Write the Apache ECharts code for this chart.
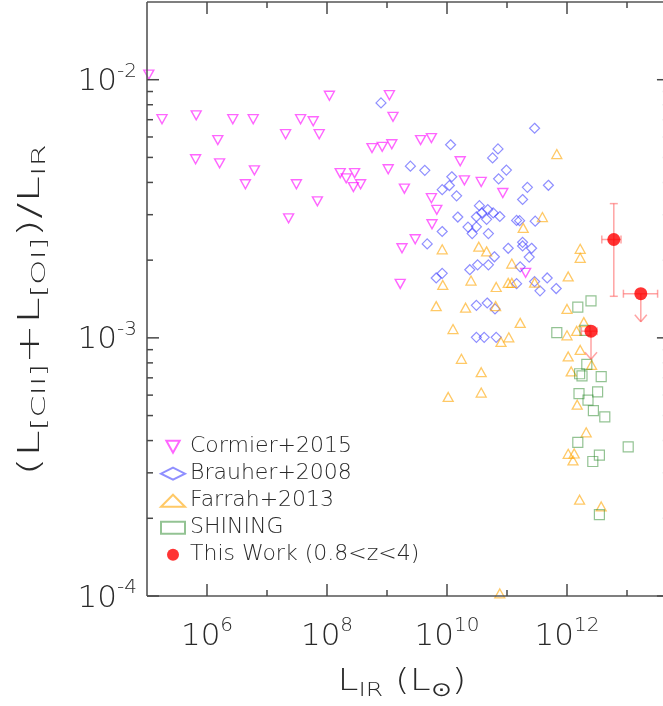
<!DOCTYPE html>
<html>
<head>
<meta charset="utf-8">
<script src="https://cdn.jsdelivr.net/npm/echarts@6/dist/echarts.min.js"></script>
<style>
  html, body { margin: 0; padding: 0; background: #ffffff; }
  #chart { width: 663px; height: 706px; }
</style>
</head>
<body>
<div id="chart"></div>
<script>
// All luminosities and ratios are stored as log10 values (dex).
// x: log10 L_IR [L_sun]; y: log10 (L[CII] + L[OI]) / L_IR

// Cormier+2015 (dwarf galaxies)
const cormierLogLIR = [5.03, 5.25, 5.82, 6.43, 6.77, 7.56, 7.77, 8.04, 7.31, 7.87, 6.18, 5.81, 6.21, 6.79, 6.64, 7.49, 7.84, 7.36, 9.04, 9.10, 8.75, 8.92, 9.08, 8.22, 8.32, 8.46, 8.44, 8.56, 9.02, 9.29, 9.56, 9.74, 10.22, 10.29, 10.57, 9.74, 9.83, 9.75, 9.47, 9.25, 9.22, 10.93, 11.31];
const cormierLogRatio = [-1.98, -2.153, -2.138, -2.153, -2.153, -2.153, -2.161, -2.062, -2.211, -2.211, -2.234, -2.308, -2.324, -2.351, -2.405, -2.405, -2.471, -2.537, -2.060, -2.144, -2.265, -2.260, -2.250, -2.362, -2.382, -2.362, -2.416, -2.405, -2.347, -2.422, -2.234, -2.226, -2.316, -2.390, -2.396, -2.459, -2.504, -2.560, -2.618, -2.653, -2.791, -2.439, -2.748];

// Brauher+2008
const brauherLogLIR = [8.90, 11.46, 10.06, 9.39, 9.63, 10.85, 10.76, 10.99, 10.86, 10.08, 9.92, 10.04, 10.16, 11.34, 11.69, 11.26, 10.54, 10.18, 10.49, 10.58, 10.68, 10.77, 10.88, 10.66, 10.35, 10.49, 10.42, 10.69, 11.16, 11.21, 11.47, 9.92, 9.67, 11.26, 11.26, 11.41, 11.02, 11.37, 10.79, 10.69, 10.51, 10.38, 11.22, 9.92, 9.82, 11.16, 11.46, 11.67, 11.55, 11.82, 10.49, 10.67, 10.80, 10.49, 10.62, 10.82];
const brauherLogRatio = [-2.090, -2.188, -2.252, -2.335, -2.351, -2.268, -2.303, -2.350, -2.384, -2.376, -2.426, -2.410, -2.450, -2.417, -2.409, -2.464, -2.488, -2.532, -2.531, -2.516, -2.503, -2.516, -2.530, -2.541, -2.571, -2.570, -2.596, -2.596, -2.545, -2.546, -2.548, -2.588, -2.636, -2.630, -2.644, -2.653, -2.653, -2.687, -2.686, -2.717, -2.717, -2.736, -2.725, -2.750, -2.768, -2.790, -2.782, -2.768, -2.818, -2.809, -2.874, -2.865, -2.888, -2.998, -2.998, -2.998];

// Farrah+2013
const farrahLogLIR = [11.83, 11.59, 11.27, 9.92, 10.53, 10.66, 12.22, 12.22, 11.08, 10.40, 9.93, 10.82, 11.02, 11.08, 11.46, 12.02, 9.82, 10.31, 10.81, 12.00, 11.22, 10.10, 12.28, 12.16, 12.00, 11.03, 10.90, 12.22, 12.02, 10.24, 12.41, 10.57, 12.07, 10.02, 10.57, 12.17, 12.32, 12.02, 12.12, 12.10, 12.21, 12.57, 10.88];
const farrahLogRatio = [-2.288, -2.532, -2.574, -2.657, -2.647, -2.665, -2.655, -2.690, -2.712, -2.778, -2.795, -2.803, -2.787, -2.787, -2.786, -2.762, -2.877, -2.883, -2.877, -2.888, -2.942, -2.966, -2.939, -2.973, -2.990, -2.998, -3.016, -3.047, -3.072, -3.081, -3.105, -3.133, -3.130, -3.229, -3.212, -3.259, -3.366, -3.449, -3.448, -3.475, -3.627, -3.653, -3.99];

// SHINING
const shiningLogLIR = [12.18, 12.40, 11.83, 12.30, 12.33, 12.21, 12.25, 12.57, 12.20, 12.35, 12.51, 12.44, 12.63, 12.18, 12.54, 12.43, 13.02, 12.54];
const shiningLogRatio = [-2.881, -2.857, -2.980, -2.971, -3.103, -3.139, -3.147, -3.150, -3.216, -3.241, -3.209, -3.282, -3.306, -3.405, -3.454, -3.479, -3.422, -3.685];

// This Work (0.8<z<4): values, error ranges and upper-limit flags
const thisWorkLogLIR = [12.78, 13.23, 12.40];
const thisWorkLogRatio = [-2.619, -2.829, -2.974];
const thisWorkLogLIRLow = [12.58, 12.94, 12.24];
const thisWorkLogLIRHigh = [12.90, 13.51, 12.50];
const thisWorkLogRatioLow = [-2.839, null, null];
const thisWorkLogRatioHigh = [-2.480, null, null];
const thisWorkUpperLimit = [false, true, true];

// Axis tick exponents
const xMajorExp = [6, 8, 10, 12];
const xMinorExp = [7, 9, 11, 13];
const yMajorExp = [-4, -3, -2];
const yMinorMantissa = [2, 3, 4, 5, 6, 7, 8, 9];

// visible window; the right-hand frame edge (5e13) lies just past the canvas
const X_MIN = 1e5, X_MAX = Math.pow(10, 13.6), X_FRAME_EDGE = 5e13;
const Y_MIN = 1e-4, Y_MAX = 2e-2;

const FONT = 'DejaVu Sans';
const TEXT_WEIGHT = 200;
const TEXT_COLOR = '#2a2a2a';
const TICK_COLOR = '#484848';
const FRAME_COLOR = '#555555';
const MAJOR_LEN = 12, MINOR_LEN = 6;

function toPairs(lx, ly) {
  return lx.map((v, i) => [Math.pow(10, v), Math.pow(10, ly[i])]);
}

function renderFrame(params, api) {
  const p0 = api.coord([X_MIN, Y_MIN]);
  const p1 = api.coord([X_MAX, Y_MAX]);
  const left = p0[0], bottom = p0[1], top = p1[1];
  const pxPerDex = (p1[0] - p0[0]) / (Math.log10(X_MAX) - Math.log10(X_MIN));
  const right = p0[0] + pxPerDex * (Math.log10(X_FRAME_EDGE) - Math.log10(X_MIN));
  const kids = [];
  const line = (ax, ay, bx, by, color, w) => kids.push({
    type: 'line', shape: { x1: ax, y1: ay, x2: bx, y2: by },
    style: { stroke: color, lineWidth: w }
  });
  const tick = (ax, ay, bx, by) => line(ax, ay, bx, by, TICK_COLOR, 1.5);
  // frame
  line(left, top, left, bottom, FRAME_COLOR, 1.6);
  line(left, bottom, right, bottom, FRAME_COLOR, 1.6);
  line(left, top, right, top, FRAME_COLOR, 1.6);
  line(right, top, right, bottom, FRAME_COLOR, 1.6);

  const supRich = {
    b: { fontSize: 31, lineHeight: 36, fontFamily: FONT, fontWeight: TEXT_WEIGHT, fill: TEXT_COLOR, verticalAlign: 'bottom' },
    s: { fontSize: 20, lineHeight: 22, fontFamily: FONT, fontWeight: TEXT_WEIGHT, fill: TEXT_COLOR, verticalAlign: 'top' }
  };
  xMajorExp.forEach(e => {
    const x = api.coord([Math.pow(10, e), Y_MIN])[0];
    tick(x, bottom, x, bottom - MAJOR_LEN);
    tick(x, top, x, top + MAJOR_LEN);
    kids.push({
      type: 'text', x: x, y: bottom + 38,
      style: { text: '{b|10}{s|' + e + '}', rich: supRich, align: 'center', verticalAlign: 'middle' }
    });
  });
  xMinorExp.forEach(e => {
    const x = api.coord([Math.pow(10, e), Y_MIN])[0];
    tick(x, bottom, x, bottom - MINOR_LEN);
    tick(x, top, x, top + MINOR_LEN);
  });
  yMajorExp.forEach(e => {
    const y = api.coord([X_MIN, Math.pow(10, e)])[1];
    tick(left, y, left + MAJOR_LEN, y);
    tick(right, y, right - MAJOR_LEN, y);
    kids.push({
      type: 'text', x: left - 10, y: y,
      style: { text: '{b|10}{s|-' + (-e) + '}', rich: supRich, align: 'right', verticalAlign: 'middle' }
    });
  });
  yMajorExp.slice(0, -1).forEach(e => {
    yMinorMantissa.forEach(m => {
      const y = api.coord([X_MIN, m * Math.pow(10, e)])[1];
      tick(left, y, left + MINOR_LEN, y);
      tick(right, y, right - MINOR_LEN, y);
    });
  });
  const subRich = {
    b: { fontSize: 30, lineHeight: 34, fontFamily: FONT, fontWeight: TEXT_WEIGHT, fill: TEXT_COLOR, verticalAlign: 'top' },
    u: { fontSize: 20, lineHeight: 20, fontFamily: FONT, fontWeight: TEXT_WEIGHT, fill: TEXT_COLOR, verticalAlign: 'bottom' }
  };
  // axis titles
  kids.push({
    type: 'text', x: 402, y: bottom + 88, scaleX: 1.25,
    style: { text: '{b|L}{u|IR}{b| (L}{u|\u2299}{b|)}', rich: subRich, align: 'center', verticalAlign: 'middle' }
  });
  kids.push({
    type: 'text', x: 33, y: 310, rotation: Math.PI / 2, scaleX: 1.6,
    style: { text: '{b|(L}{u|[CII]}{b|+L}{u|[OI]}{b|)/L}{u|IR}', rich: subRich, align: 'center', verticalAlign: 'middle' }
  });
  return { type: 'group', children: kids };
}

function renderErrorBars(params, api) {
  const i = params.dataIndex;
  const c = api.coord([api.value(0), api.value(1)]);
  const kids = [];
  const stroke = 'rgba(255, 90, 90, 0.55)';
  const seg = (ax, ay, bx, by) => kids.push({
    type: 'line', shape: { x1: ax, y1: ay, x2: bx, y2: by },
    style: { stroke: stroke, lineWidth: 1.5 }
  });
  const CAP = 4;
  const xl = api.coord([Math.pow(10, thisWorkLogLIRLow[i]), api.value(1)])[0];
  const xh = api.coord([Math.pow(10, thisWorkLogLIRHigh[i]), api.value(1)])[0];
  seg(xl, c[1], xh, c[1]);
  seg(xl, c[1] - CAP, xl, c[1] + CAP);
  seg(xh, c[1] - CAP, xh, c[1] + CAP);
  if (thisWorkLogRatioLow[i] !== null) {
    const yl = api.coord([api.value(0), Math.pow(10, thisWorkLogRatioLow[i])])[1];
    const yh = api.coord([api.value(0), Math.pow(10, thisWorkLogRatioHigh[i])])[1];
    seg(c[0], yl, c[0], yh);
    seg(c[0] - CAP, yl, c[0] + CAP, yl);
    seg(c[0] - CAP, yh, c[0] + CAP, yh);
  }
  if (thisWorkUpperLimit[i]) {
    const tip = c[1] + 28;
    seg(c[0], c[1], c[0], tip);
    seg(c[0] - 6, tip - 7, c[0], tip);
    seg(c[0] + 6, tip - 7, c[0], tip);
  }
  return { type: 'group', children: kids };
}

const hollow = (color, w) => ({ color: 'rgba(0,0,0,0)', borderColor: color, borderWidth: w || 1.2 });

const chart = echarts.init(document.getElementById('chart'), null, { renderer: 'canvas' });
chart.setOption({
  backgroundColor: '#ffffff',
  animation: false,
  grid: { left: 147, top: 2, width: 516, height: 594, show: false },
  xAxis: {
    type: 'log', min: X_MIN, max: X_MAX,
    axisLine: { show: false }, axisTick: { show: false }, axisLabel: { show: false }, splitLine: { show: false }
  },
  yAxis: {
    type: 'log', min: Y_MIN, max: Y_MAX,
    axisLine: { show: false }, axisTick: { show: false }, axisLabel: { show: false }, splitLine: { show: false }
  },
  legend: {
    orient: 'vertical', left: 160, top: 435.7, padding: 0,
    itemWidth: 24, itemHeight: 12, itemGap: 5, selectedMode: false,
    textStyle: { fontSize: 22, lineHeight: 22, fontFamily: FONT, fontWeight: TEXT_WEIGHT, color: TEXT_COLOR },
    data: ['Cormier+2015', 'Brauher+2008', 'Farrah+2013', 'SHINING', 'This Work (0.8<z<4)']
  },
  series: [
    {
      name: 'Cormier+2015', type: 'scatter', z: 2,
      symbol: 'path://M0,0L10,0L5,9Z', symbolSize: [10, 9],
      itemStyle: hollow('rgba(255, 0, 255, 0.75)', 1.4),
      data: toPairs(cormierLogLIR, cormierLogRatio)
    },
    {
      name: 'Brauher+2008', type: 'scatter', z: 2,
      symbol: 'diamond', symbolSize: [10, 10],
      itemStyle: hollow('rgba(40, 40, 255, 0.65)'),
      data: toPairs(brauherLogLIR, brauherLogRatio)
    },
    {
      name: 'Farrah+2013', type: 'scatter', z: 2,
      symbol: 'triangle', symbolSize: [10, 9],
      itemStyle: hollow('rgba(255, 165, 0, 0.75)', 1.3),
      data: toPairs(farrahLogLIR, farrahLogRatio)
    },
    {
      name: 'SHINING', type: 'scatter', z: 2,
      symbol: 'rect', symbolSize: [10, 10],
      itemStyle: hollow('rgba(30, 130, 30, 0.6)'),
      data: toPairs(shiningLogLIR, shiningLogRatio)
    },
    {
      name: 'thisWorkErrors', type: 'custom', z: 3, silent: true,
      renderItem: renderErrorBars,
      data: toPairs(thisWorkLogLIR, thisWorkLogRatio)
    },
    {
      name: 'This Work (0.8<z<4)', type: 'scatter', z: 4,
      symbol: 'circle', symbolSize: 13,
      itemStyle: { color: '#ff0000' },
      data: toPairs(thisWorkLogLIR, thisWorkLogRatio)
    },
    {
      name: 'frame', type: 'custom', z: 5, silent: true, clip: false,
      renderItem: renderFrame,
      data: [[X_MIN, Y_MIN]]
    }
  ]
});
</script>
</body>
</html>
